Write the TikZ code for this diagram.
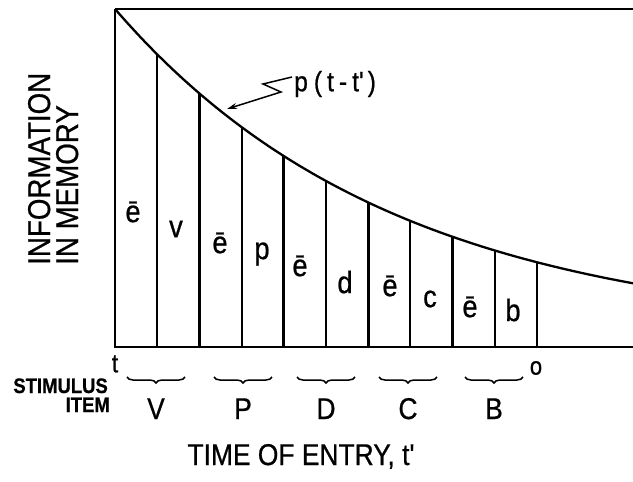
\documentclass[tikz,border=0pt]{standalone}
\usepackage{fontspec}
\setmainfont{Liberation Sans}
\newfontfamily\cond[FakeStretch=0.88, FakeBold=0.7]{Liberation Sans}
\usetikzlibrary{decorations.pathreplacing,arrows.meta}
\begin{document}
\begin{tikzpicture}[x=1pt,y=-1pt,
  declare function={f(\x)=347-12-326*exp(-0.150*(\x-115)/42.2);}]
\tikzset{
  axisline/.style={line width=2.8pt},
  curveline/.style={line width=2.3pt},
  thinbar/.style={line width=2.1pt},
  pairbar/.style={line width=2.8pt},
  collabel/.style={font=\cond\fontsize{31}{31}\selectfont, inner sep=0pt},
  caplabel/.style={font=\cond\fontsize{30}{30}\selectfont, inner sep=0pt, anchor=base},
  ylabel/.style={font=\cond\fontsize{31.5}{31.5}\selectfont, inner sep=0pt, rotate=90, anchor=base west},
  smallbold/.style={font=\cond\bfseries\fontsize{21}{21}\selectfont, inner sep=0pt, anchor=base east},
  ubrace/.style={decorate, decoration={brace, amplitude=6pt, mirror}, line width=1.5pt},
  leader/.style={line width=1.5pt, -{Stealth[length=10pt,width=6pt]}},
}
\useasboundingbox (0,0) rectangle (633,482);
% frame lines
\draw[axisline] (115,9) -- (633,9);
\draw[axisline] (113.6,347) -- (633,347);
\draw[pairbar] (115,9) -- (115,347);
% vertical bars
\foreach \i in {1,...,10}{
  \pgfmathsetmacro\xx{115+42.2*\i}
  \pgfmathsetmacro\yy{f(\xx)}
  \ifodd\i
    \draw[thinbar] (\xx,347) -- (\xx,\yy);
  \else
    \draw[pairbar] (\xx,347) -- (\xx,\yy);
  \fi
}
% decay curve
\draw[curveline] plot[domain=115:633, samples=140] (\x,{f(\x)});
% column labels
\node[collabel] (e1) at (133,212) {ē};
\node[collabel] (lv) at (176,229) {v};
\node[collabel] (e2) at (220,243) {ē};
\node[collabel] (lp) at (262,254) {p};
\node[collabel] (e3) at (300,266) {ē};
\node[collabel] (ld) at (345,282) {d};
\node[collabel] (e4) at (390,286) {ē};
\node[collabel] (lc) at (430,299) {c};
\node[collabel] (e5) at (470,307) {ē};
\node[collabel] (lb) at (513,310) {b};
% p(t-t') label with zigzag leader
\node[font=\cond\fontsize{28}{28}\selectfont, inner sep=0pt, anchor=west] (plabel) at (294,84)
  {p\hspace{6pt}(\hspace{5pt}t\hspace{5pt}-\hspace{5pt}t'\hspace{4pt})};
\coordinate (ptip) at (227,109);
\draw[leader] ([yshift=7pt,xshift=-2pt]plabel.west) -- ++(-29,7) -- ++(18,8) -- (ptip);
% y-axis label
\node[ylabel] (info) at (50,265) {INFORMATION};
\node[ylabel] (mem) at (78,265) {IN MEMORY};
% axis end labels
\node[font=\cond\fontsize{26}{26}\selectfont, inner sep=0pt] (tlab) at (115,364) {t};
\node[font=\cond\fontsize{25}{25}\selectfont, inner sep=0pt] (olab) at (536,368) {o};
% stimulus items
\node[smallbold] (stim) at (108,393) {STIMULUS};
\node[smallbold] (item) at (110,412) {ITEM};
\foreach \c/\L in {156/V,243/P,326/D,408/C,494/B}{
  \draw[ubrace] (\c-29,377) -- (\c+29,377);
  \node[caplabel] (item\L) at (\c,419) {\L};
}
% x-axis title
\node[caplabel] (xtitle) at (301,465) {TIME OF ENTRY, t'};
\end{tikzpicture}
\end{document}
